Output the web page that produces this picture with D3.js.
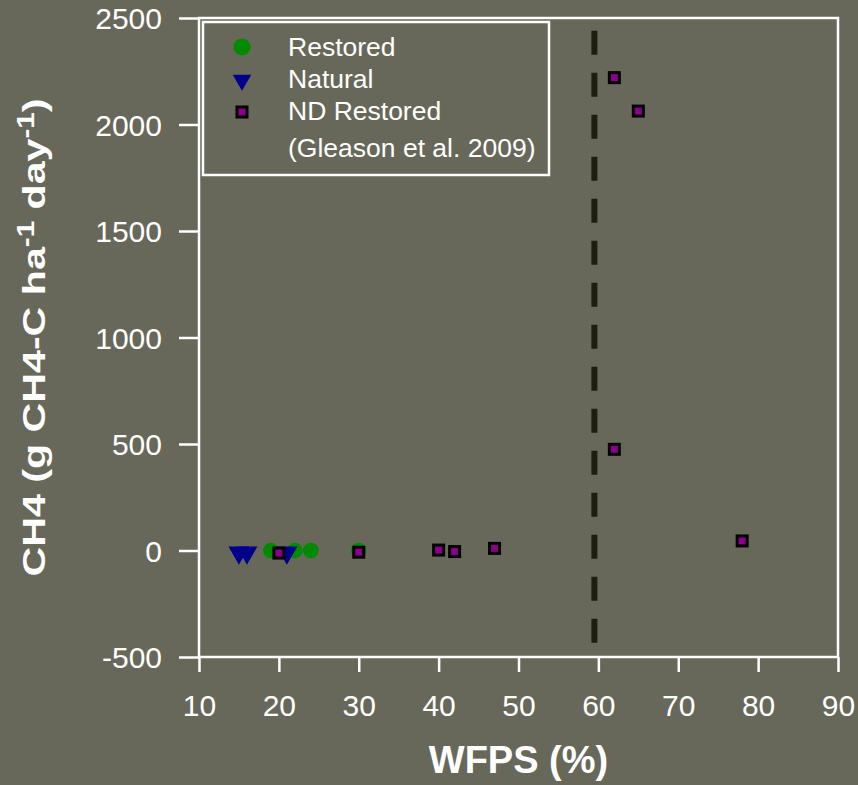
<!DOCTYPE html>
<html>
<head>
<meta charset="utf-8">
<script src="https://cdn.jsdelivr.net/npm/d3@7"></script>
<style>
  html, body { margin: 0; padding: 0; background: #67685a; }
  svg { display: block; font-family: "Liberation Sans", Arial, sans-serif; }
</style>
</head>
<body>
<svg id="chart" width="858" height="785"></svg>
<script>
// WFPS (%) and CH4 flux
var restoredWfps = [19, 22, 24, 30];
var restoredCh4 = [0, 0, 0, 0];
var naturalWfps = [15, 16, 21];
var naturalCh4 = [-5, -5, -5];
var ndWfps = [20, 30, 40, 42, 47, 62, 65, 62, 78];
var ndCh4 = [-12, -8, 2, -5, 10, 2220, 2063, 475, 45];
var xTicks = [10, 20, 30, 40, 50, 60, 70, 80, 90];
var yTicks = [-500, 0, 500, 1000, 1500, 2000, 2500];
var threshold = 59.5;
var legendLabels = ["Restored", "Natural", "ND Restored", "(Gleason et al. 2009)"];

var svg = d3.select('#chart');

var box = {left: 199, top: 18, right: 838, bottom: 657};

var x = d3.scaleLinear().domain([10, 90]).range([box.left, box.right]);
var y = d3.scaleLinear().domain([-500, 2500]).range([box.bottom, box.top]);

var white = '#ffffff';

// Plot frame
svg.append('rect')
    .attr('x', box.left)
    .attr('y', box.top)
    .attr('width', box.right - box.left)
    .attr('height', box.bottom - box.top)
    .attr('fill', 'none')
    .attr('stroke', white)
    .attr('stroke-width', 2.5);

// Y axis (plain hyphen for negatives, like the original)
var yAxis = svg.append('g')
    .attr('transform', 'translate(' + box.left + ',0)')
    .call(d3.axisLeft(y).tickValues(yTicks).tickSize(20).tickPadding(17).tickFormat(function(d) { return String(d); }));
yAxis.select('.domain').remove();
yAxis.selectAll('line').attr('stroke', white).attr('stroke-width', 2.5);
yAxis.selectAll('text')
    .attr('fill', white)
    .attr('font-size', 30)
    .attr('font-family', '"Liberation Sans", Arial, sans-serif')
    .attr('dy', '0.36em');

// X axis
var xAxis = svg.append('g')
    .attr('transform', 'translate(0,' + box.bottom + ')')
    .call(d3.axisBottom(x).tickValues(xTicks).tickSize(15).tickFormat(function(d) { return String(d); }));
xAxis.select('.domain').remove();
xAxis.selectAll('line').attr('stroke', white).attr('stroke-width', 2.5);
xAxis.selectAll('text')
    .attr('fill', white)
    .attr('font-size', 30)
    .attr('font-family', '"Liberation Sans", Arial, sans-serif')
    .attr('y', 59)
    .attr('dy', 0);

// Axis titles
svg.append('text')
    .attr('x', (box.left + box.right) / 2)
    .attr('y', 773)
    .attr('text-anchor', 'middle')
    .attr('font-size', 38)
    .attr('font-weight', 'bold')
    .attr('fill', white)
    .text('WFPS (%)');

var yTitle = svg.append('text')
    .attr('transform', 'translate(45,' + ((box.top + box.bottom) / 2) + ') rotate(-90)')
    .attr('text-anchor', 'middle')
    .attr('font-size', 32)
    .attr('font-weight', 'bold')
    .attr('fill', white)
    .attr('textLength', 478)
    .attr('lengthAdjust', 'spacingAndGlyphs');
yTitle.append('tspan').text('CH4 (g CH4-C ha');
yTitle.append('tspan').attr('font-size', 23).attr('dy', -11).text('-1');
yTitle.append('tspan').attr('dy', 11).text(' day');
yTitle.append('tspan').attr('font-size', 23).attr('dy', -11).text('-1');
yTitle.append('tspan').attr('dy', 11).text(')');

// Threshold line
svg.append('line')
    .attr('x1', x(threshold))
    .attr('x2', x(threshold))
    .attr('y1', y(2440))
    .attr('y2', y(-440))
    .attr('stroke', '#1d1d12')
    .attr('stroke-width', 6)
    .attr('stroke-dasharray', '24,18');

// Symbols
var triangle = d3.symbol().type(d3.symbolTriangle).size(190);

var pts = svg.append('g');

pts.selectAll('circle.restored')
    .data(d3.zip(restoredWfps, restoredCh4))
    .enter().append('circle')
    .attr('class', 'restored')
    .attr('cx', function(d) { return x(d[0]); })
    .attr('cy', function(d) { return y(d[1]); })
    .attr('r', 7.8)
    .attr('fill', '#008a00');

pts.selectAll('path.natural')
    .data(d3.zip(naturalWfps, naturalCh4))
    .enter().append('path')
    .attr('class', 'natural')
    .attr('d', triangle)
    .attr('transform', function(d) { return 'translate(' + x(d[0]) + ',' + (y(d[1]) + 1) + ') rotate(180)'; })
    .attr('fill', '#00008b');

pts.selectAll('rect.nd')
    .data(d3.zip(ndWfps, ndCh4))
    .enter().append('rect')
    .attr('class', 'nd')
    .attr('x', function(d) { return x(d[0]) - 5; })
    .attr('y', function(d) { return y(d[1]) - 5; })
    .attr('width', 10)
    .attr('height', 10)
    .attr('fill', '#8b008b')
    .attr('stroke', '#000000')
    .attr('stroke-width', 3);

// Legend
var legend = svg.append('g');
legend.append('rect')
    .attr('x', 203)
    .attr('y', 22)
    .attr('width', 346)
    .attr('height', 153)
    .attr('fill', '#67685a')
    .attr('stroke', white)
    .attr('stroke-width', 2.5);

var rowY = [47, 80, 112];
var baseY = [56, 88, 120, 157];

legend.append('circle')
    .attr('cx', 242).attr('cy', rowY[0]).attr('r', 8.5)
    .attr('fill', '#008a00');
legend.append('path')
    .attr('d', d3.symbol().type(d3.symbolTriangle).size(150))
    .attr('transform', 'translate(242,' + rowY[1] + ') rotate(180)')
    .attr('fill', '#00008b');
legend.append('rect')
    .attr('x', 237).attr('y', rowY[2] - 5).attr('width', 10).attr('height', 10)
    .attr('fill', '#8b008b')
    .attr('stroke', '#000000')
    .attr('stroke-width', 3);

legend.selectAll('text')
    .data(legendLabels)
    .enter().append('text')
    .attr('x', 288)
    .attr('y', function(d, i) { return baseY[i]; })
    .attr('font-size', 26.5)
    .attr('fill', white)
    .text(function(d) { return d; });
</script>
</body>
</html>
